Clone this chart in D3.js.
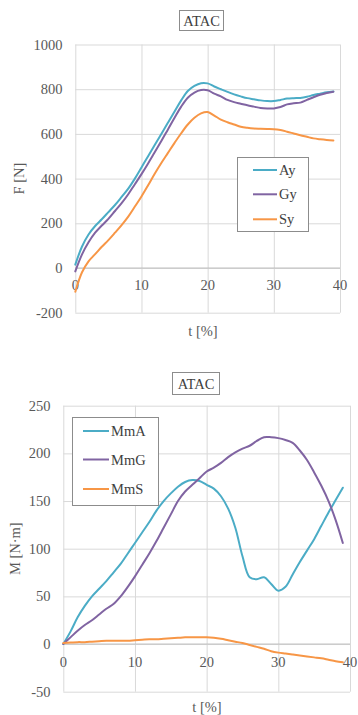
<!DOCTYPE html>
<html>
<head>
<meta charset="utf-8">
<script src="https://cdn.jsdelivr.net/npm/d3@7"></script>
<style>
  html, body { margin: 0; padding: 0; background: #fff; }
  svg { display: block; }
</style>
</head>
<body>
<svg id="chart" width="358" height="715" font-family="'Liberation Serif', 'DejaVu Serif', serif"></svg>
<script>
// ---------- Data ----------
const tValues = [0,1,2,3,4,5,6,7,8,9,10,11,12,13,14,15,16,17,18,19,20,21,22,23,24,25,26,27,28,29,30,31,32,33,34,35,36,37,38,39];

const Ay = [15,95,150,188,218,250,282,318,355,400,450,500,550,600,650,700,750,792,815,827,826,812,800,788,777,768,760,755,750,747,747,752,758,760,761,766,774,780,786,790];
const Gy = [-15,60,115,158,190,220,255,290,330,375,420,468,518,568,620,672,722,762,785,796,795,780,768,752,742,735,728,722,716,714,714,720,732,737,740,752,764,775,783,789];
const Sy = [-106,-20,30,62,95,125,158,192,230,275,320,370,422,470,515,560,603,642,672,692,698,682,664,652,642,632,627,624,623,622,621,617,610,602,594,587,580,576,573,571];

const MmA = [0,13,28,40,50,58,66,75,84,95,106,117,128,140,150,158,165,170,172,171,167,163,155,142,122,92,70,68,70,63,56,60,73,86,98,110,124,138,151,164];
const MmG = [0,7,14,20,25,31,37,42,50,60,71,83,95,108,122,136,150,160,167,174,181,185,190,196,201,205,208,213,217,217,216,214,211,203,193,180,166,150,130,106];
const MmS = [1,1.5,2,2,2.5,3,3.5,3.5,3.5,3.5,4,4.5,5,5,5.5,6,6.5,7,7,7,7,6.5,5.5,4,2.5,1,-1,-3,-5,-7.5,-9,-10,-11,-12,-13,-14,-15,-16.5,-18,-19];

const xTicks = [0,10,20,30,40];
const fTicks = [-200,0,200,400,600,800,1000];
const mTicks = [-50,0,50,100,150,200,250];

const colA = "#4BACC6", colG = "#8064A2", colS = "#F79646";

// ---------- Drawing ----------
const svg = d3.select("#chart");
const FONT = "'Liberation Serif', 'DejaVu Serif', serif";

function drawChart(cfg) {
  const g = svg.append("g").attr("font-family", FONT);
  const x = d3.scaleLinear().domain([0, 40]).range([cfg.left, cfg.right]);
  const y = d3.scaleLinear().domain(cfg.yDomain).range([cfg.bottom, cfg.top]);

  // vertical gridlines
  g.append("g")
    .attr("transform", `translate(0,${cfg.bottom})`)
    .call(d3.axisBottom(x).tickValues(xTicks).tickSize(-(cfg.bottom - cfg.top)).tickFormat(""))
    .call(s => s.select(".domain").remove())
    .call(s => s.selectAll("line").attr("stroke", "#d9d9d9").attr("stroke-width", 1));
  // horizontal gridlines
  g.append("g")
    .attr("transform", `translate(${cfg.left},0)`)
    .call(d3.axisLeft(y).tickValues(cfg.yTicks).tickSize(-(cfg.right - cfg.left)).tickFormat(""))
    .call(s => s.select(".domain").remove())
    .call(s => s.selectAll("line").attr("stroke", "#d9d9d9").attr("stroke-width", 1));
  // zero axis line
  g.append("line")
    .attr("x1", cfg.left).attr("x2", cfg.right)
    .attr("y1", y(0)).attr("y2", y(0))
    .attr("stroke", "#bfbfbf").attr("stroke-width", 1);

  // y tick labels
  g.append("g").selectAll("text").data(cfg.yTicks).join("text")
    .attr("x", cfg.yLabelX).attr("y", d => y(d)).attr("dy", "0.35em")
    .attr("text-anchor", "end").attr("font-size", 14.5).attr("font-family", FONT).attr("fill", "#595959")
    .text(d => d);
  // x tick labels
  g.append("g").selectAll("text").data(xTicks).join("text")
    .attr("x", d => x(d)).attr("y", cfg.xLabelY)
    .attr("text-anchor", "middle").attr("font-size", 14.5).attr("font-family", FONT).attr("fill", "#595959")
    .text(d => d);

  // axis titles
  g.append("text").attr("x", cfg.xTitleX).attr("y", cfg.xTitleY)
    .attr("text-anchor", "middle").attr("font-size", 14.5).attr("font-family", FONT).attr("fill", "#595959")
    .text("t [%]");
  g.append("text")
    .attr("transform", `translate(${cfg.yTitleX},${(cfg.top + cfg.bottom) / 2}) rotate(-90)`)
    .attr("text-anchor", "middle").attr("font-size", 14.5).attr("font-family", FONT).attr("fill", "#595959")
    .text(cfg.yTitle);

  // title box
  const tb = cfg.titleBox;
  g.append("rect").attr("x", tb[0] + 0.5).attr("y", tb[1] + 0.5)
    .attr("width", tb[2] - tb[0]).attr("height", tb[3] - tb[1])
    .attr("fill", "#fff").attr("stroke", "#8c8c8c");
  g.append("text").attr("x", (tb[0] + tb[2]) / 2 + 0.5).attr("y", (tb[1] + tb[3]) / 2 + 5.5)
    .attr("text-anchor", "middle").attr("font-size", 14.5).attr("font-family", FONT).attr("fill", "#404040")
    .text("ATAC");

  // lines
  const line = d3.line().x(d => x(d[0])).y(d => y(d[1])).curve(d3.curveCatmullRom.alpha(0.5));
  cfg.series.forEach(s => {
    g.append("path")
      .datum(tValues.map((t, i) => [t, s.values[i]]))
      .attr("fill", "none").attr("stroke", s.color).attr("stroke-width", 2)
      .attr("stroke-linejoin", "round").attr("stroke-linecap", "round")
      .attr("d", line);
  });

  // legend
  const lb = cfg.legend;
  g.append("rect").attr("x", lb.box[0] + 0.5).attr("y", lb.box[1] + 0.5)
    .attr("width", lb.box[2] - lb.box[0]).attr("height", lb.box[3] - lb.box[1])
    .attr("fill", "#fff").attr("stroke", "#8c8c8c");
  cfg.series.forEach((s, i) => {
    const yy = lb.ys[i];
    g.append("line").attr("x1", lb.lineX[0]).attr("x2", lb.lineX[1])
      .attr("y1", yy).attr("y2", yy).attr("stroke", s.color).attr("stroke-width", 2);
    g.append("text").attr("x", lb.textX).attr("y", yy).attr("dy", "0.35em")
      .attr("font-size", 14.5).attr("font-family", FONT).attr("fill", "#404040").text(s.name);
  });
}

drawChart({
  left: 75.3, right: 340, top: 44.5, bottom: 312.7,
  yDomain: [-200, 1000], yTicks: fTicks,
  yLabelX: 62.5, xLabelY: 290, xTitleX: 203, xTitleY: 336,
  yTitleX: 24, yTitle: "F [N]",
  titleBox: [179, 10, 223, 30],
  series: [
    { name: "Ay", values: Ay, color: colA },
    { name: "Gy", values: Gy, color: colG },
    { name: "Sy", values: Sy, color: colS }
  ],
  legend: { box: [237, 157, 308, 231], ys: [170, 194.3, 219.3], lineX: [253, 277], textX: 279 }
});

drawChart({
  left: 63.3, right: 350, top: 405.7, bottom: 691.7,
  yDomain: [-50, 250], yTicks: mTicks,
  yLabelX: 50.5, xLabelY: 667, xTitleX: 207, xTitleY: 712,
  yTitleX: 20, yTitle: "M [N·m]",
  titleBox: [172, 372, 219, 394],
  series: [
    { name: "MmA", values: MmA, color: colA },
    { name: "MmG", values: MmG, color: colG },
    { name: "MmS", values: MmS, color: colS }
  ],
  legend: { box: [72, 417, 158, 505], ys: [431, 459.5, 489], lineX: [83, 109], textX: 111 }
});
</script>
</body>
</html>
